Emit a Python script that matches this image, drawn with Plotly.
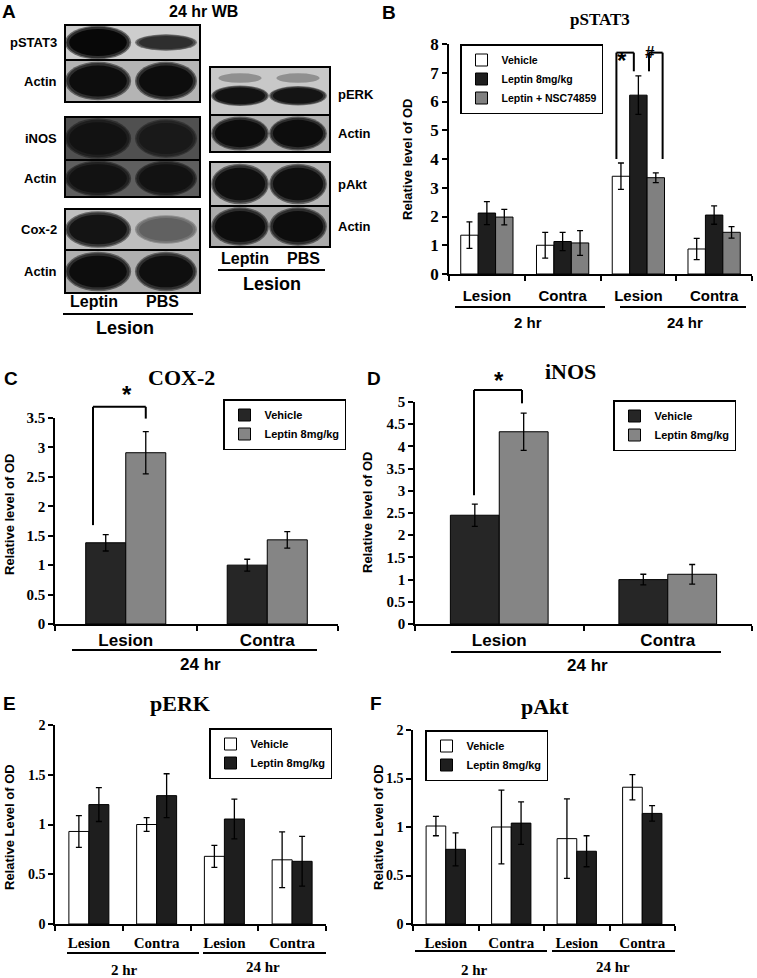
import plotly.graph_objects as go

W, H = 757, 978
SANS = "Liberation Sans, Arial, sans-serif"
SERIF = "Liberation Serif, Times New Roman, serif"

# ---------------- data ----------------
wb_lanes = ["Leptin", "PBS"]
wb_left_targets = ["pSTAT3", "Actin", "iNOS", "Actin", "Cox-2", "Actin"]
wb_left_leptin = [0.97, 0.95, 0.93, 0.93, 0.92, 0.95]   # band darkness
wb_left_pbs = [0.82, 0.95, 0.90, 0.93, 0.62, 0.94]
wb_right_targets = ["pERK", "Actin", "pAkt", "Actin"]
wb_right_leptin = [0.93, 0.95, 0.94, 0.95]
wb_right_pbs = [0.92, 0.95, 0.94, 0.95]

regions4 = ["Lesion", "Contra", "Lesion", "Contra"]
regions2 = ["Lesion", "Contra"]
times = ["2 hr", "24 hr"]

pstat3_vehicle = [1.35, 1.00, 3.40, 0.87]
pstat3_vehicle_err = [0.46, 0.45, 0.46, 0.37]
pstat3_leptin = [2.12, 1.13, 6.22, 2.05]
pstat3_leptin_err = [0.40, 0.32, 0.67, 0.32]
pstat3_nsc = [1.98, 1.08, 3.35, 1.45]
pstat3_nsc_err = [0.27, 0.43, 0.17, 0.20]

cox2_vehicle = [1.38, 1.00]
cox2_vehicle_err = [0.14, 0.10]
cox2_leptin = [2.91, 1.43]
cox2_leptin_err = [0.36, 0.14]

inos_vehicle = [2.45, 1.00]
inos_vehicle_err = [0.25, 0.12]
inos_leptin = [4.33, 1.12]
inos_leptin_err = [0.42, 0.22]

perk_vehicle = [0.93, 1.00, 0.68, 0.645]
perk_vehicle_err = [0.16, 0.07, 0.11, 0.28]
perk_leptin = [1.20, 1.29, 1.055, 0.63]
perk_leptin_err = [0.17, 0.22, 0.20, 0.25]

pakt_vehicle = [1.01, 1.00, 0.88, 1.41]
pakt_vehicle_err = [0.10, 0.38, 0.41, 0.13]
pakt_leptin = [0.77, 1.04, 0.75, 1.14]
pakt_leptin_err = [0.17, 0.22, 0.16, 0.08]

# ---------------- helpers ----------------
def xp(px):
    return px / W


def yp(py):
    return 1 - py / H


AX = {
    "B": dict(n="2", px=(449, 752), py=(274, 44), xr=(-0.5, 3.5), yr=(0, 8)),
    "C": dict(n="3", px=(55, 338), py=(624, 418), xr=(-0.5, 1.5), yr=(0, 3.5)),
    "D": dict(n="4", px=(415, 752), py=(624, 402), xr=(-0.5, 1.5), yr=(0, 5)),
    "E": dict(n="5", px=(55, 326), py=(924, 725), xr=(-0.5, 3.5), yr=(0, 2)),
    "F": dict(n="6", px=(413, 675), py=(924, 730), xr=(-0.5, 3.5), yr=(0, 2)),
}


def dx(ax, v):
    a = AX[ax]
    x0, x1 = a["px"]
    r0, r1 = a["xr"]
    return xp(x0 + (v - r0) / (r1 - r0) * (x1 - x0))


def dy(ax, v):
    a = AX[ax]
    yb, yt = a["py"]
    r0, r1 = a["yr"]
    return yp(yb + (v - r0) / (r1 - r0) * (yt - yb))


def gray(v):
    v = max(0, min(255, int(round(v))))
    return f"rgb({v},{v},{v})"


fig = go.Figure()
shapes = []
annotations = []

# ---------------- Panel A (western blots) ----------------
left_rows_y = [(25, 60), (60, 102), (117, 160), (160, 197), (209, 250), (250, 293)]
left_bg = [205, 180, 80, 95, 190, 175]
left_band_h = [(0.86, 0.42), (0.82, 0.82), (0.84, 0.8), (0.86, 0.86), (0.8, 0.62), (0.82, 0.82)]
left_lanes = [(98, 31), (166, 29)]
right_rows_y = [(67, 115), (115, 152), (162, 206), (206, 247)]
right_bg = [200, 175, 185, 170]
right_band_h = [(0.38, 0.36), (0.82, 0.82), (0.82, 0.82), (0.84, 0.84)]
right_lanes = [(240, 27), (298, 27)]
layers = [(1.07, 1.12, 0.5), (1.02, 1.04, 0.8), (0.93, 0.9, 1.0)]


def draw_blot(rows_y, bgs, band_h, lanes, targets, lep, pbs, xbox, label_side):
    for i, (y0, y1) in enumerate(rows_y):
        bg = bgs[i]
        shapes.append(dict(type="rect", xref="x", yref="y", x0=xbox[0], x1=xbox[1], y0=y0, y1=y1,
                           fillcolor=gray(bg), line=dict(width=0), layer="above"))
        cy = (y0 + y1) / 2
        hgt = y1 - y0
        if targets[i] == "pERK":
            cy = y0 + 0.6 * hgt
            for (c, hw) in lanes:
                shapes.append(dict(type="circle", xref="x", yref="y", x0=c - hw * 0.8, x1=c + hw * 0.8,
                                   y0=y0 + 0.13 * hgt, y1=y0 + 0.33 * hgt,
                                   fillcolor=gray(bg * 0.72), line=dict(width=0), layer="above"))
        for j, (c, hw) in enumerate(lanes):
            d = (lep if j == 0 else pbs)[i]
            core = 255 * (1 - d)
            hh = band_h[i][j] * hgt / 2
            for sx, sy, t in layers:
                col = bg + (core - bg) * t
                shapes.append(dict(type="circle", xref="x", yref="y",
                                   x0=c - hw * sx, x1=c + hw * sx, y0=cy - hh * sy, y1=cy + hh * sy,
                                   fillcolor=gray(col), line=dict(width=0), layer="above"))
        shapes.append(dict(type="rect", xref="x", yref="y", x0=xbox[0], x1=xbox[1], y0=y0, y1=y1,
                           fillcolor="rgba(0,0,0,0)", line=dict(color="black", width=2), layer="above"))
        if label_side == "left":
            annotations.append(dict(xref="x", yref="y", x=xbox[0] - 6, y=(y0 + y1) / 2, text=targets[i],
                                    showarrow=False, xanchor="right", yanchor="middle",
                                    font=dict(family=SANS, size=13, color="black", weight="bold")))
        else:
            annotations.append(dict(xref="x", yref="y", x=xbox[1] + 6, y=(y0 + y1) / 2 + (3 if i == 0 else 0),
                                    text=targets[i], showarrow=False, xanchor="left", yanchor="middle",
                                    font=dict(family=SANS, size=13, color="black", weight="bold")))


draw_blot(left_rows_y, left_bg, left_band_h, left_lanes, wb_left_targets, wb_left_leptin, wb_left_pbs,
          (65, 200), "left")
draw_blot(right_rows_y, right_bg, right_band_h, right_lanes, wb_right_targets, wb_right_leptin, wb_right_pbs,
          (210, 330), "right")

bigsans = dict(family=SANS, size=16, color="black", weight="bold")
for (c, _), lab in zip(left_lanes, wb_lanes):
    annotations.append(dict(xref="x", yref="y", x=c - 4, y=301, text=lab, showarrow=False, font=bigsans))
for (c, _), lab in zip(right_lanes, wb_lanes):
    annotations.append(dict(xref="x", yref="y", x=c + 5, y=258, text=lab, showarrow=False, font=bigsans))
shapes.append(dict(type="line", xref="x", yref="y", x0=63, x1=193, y0=314, y1=314, line=dict(color="black", width=2)))
shapes.append(dict(type="line", xref="x", yref="y", x0=218, x1=325, y0=270, y1=270, line=dict(color="black", width=2)))
annotations.append(dict(xref="x", yref="y", x=125, y=328, text="Lesion", showarrow=False,
                        font=dict(family=SANS, size=18, color="black", weight="bold")))
annotations.append(dict(xref="x", yref="y", x=272, y=284, text="Lesion", showarrow=False,
                        font=dict(family=SANS, size=18, color="black", weight="bold")))
annotations.append(dict(xref="x", yref="y", x=203, y=11, text="24 hr WB", showarrow=False,
                        font=dict(family=SANS, size=16, color="black", weight="bold")))

# ---------------- bar panels ----------------
def add_bars(ax, series, w, legend):
    a = AX[ax]
    n = len(series)
    offs = [(i - (n - 1) / 2) * w for i in range(n)]
    for (name, vals, errs, color), off in zip(series, offs):
        fig.add_trace(go.Bar(
            x=[k + off for k in range(len(vals))], y=vals, width=w, name=name,
            marker=dict(color=color, line=dict(color="black", width=1)),
            error_y=dict(type="data", array=errs, color="black", thickness=1.3, width=3),
            xaxis="x" + a["n"], yaxis="y" + a["n"], legend=legend, showlegend=True,
            hoverinfo="skip"))
    return offs


VEH_W = "white"
DARK = "#1e1e1e"
MID = "#808080"

offB = add_bars("B", [("Vehicle", pstat3_vehicle, pstat3_vehicle_err, VEH_W),
                      ("Leptin 8mg/kg", pstat3_leptin, pstat3_leptin_err, DARK),
                      ("Leptin + NSC74859", pstat3_nsc, pstat3_nsc_err, MID)], 0.23, "legend")
offC = add_bars("C", [("Vehicle", cox2_vehicle, cox2_vehicle_err, "#262626"),
                      ("Leptin 8mg/kg", cox2_leptin, cox2_leptin_err, "#858585")], 0.283, "legend2")
offD = add_bars("D", [("Vehicle", inos_vehicle, inos_vehicle_err, "#262626"),
                      ("Leptin 8mg/kg", inos_leptin, inos_leptin_err, "#858585")], 0.29, "legend3")
offE = add_bars("E", [("Vehicle", perk_vehicle, perk_vehicle_err, VEH_W),
                      ("Leptin 8mg/kg", perk_leptin, perk_leptin_err, DARK)], 0.295, "legend4")
offF = add_bars("F", [("Vehicle", pakt_vehicle, pakt_vehicle_err, VEH_W),
                      ("Leptin 8mg/kg", pakt_leptin, pakt_leptin_err, DARK)], 0.30, "legend5")


def fmt(v):
    s = f"{v:.1f}"
    return s[:-2] if s.endswith(".0") else s


layout_axes = {}
axis_fonts = {
    "B": (dict(family=SERIF, size=17, color="black"), dict(family=SANS, size=15, color="black"), 7, 1),
    "C": (dict(family=SERIF, size=15, color="black"), dict(family=SANS, size=17, color="black"), 0, 0.5),
    "D": (dict(family=SERIF, size=15, color="black"), dict(family=SANS, size=17, color="black"), 0, 0.5),
    "E": (dict(family=SERIF, size=14, color="black"), dict(family=SERIF, size=15, color="black"), 4, 0.5),
    "F": (dict(family=SERIF, size=14, color="black"), dict(family=SERIF, size=15, color="black"), 4, 0.5),
}
cat_labels = {"B": regions4, "C": regions2, "D": regions2, "E": regions4, "F": regions4}
for key, a in AX.items():
    yfont, xfont, xtl, dt = axis_fonts[key]
    labels = cat_labels[key]
    ncat = len(labels)
    r0, r1 = a["yr"]
    nt = int(round((r1 - r0) / dt))
    yvals = [r0 + k * dt for k in range(nt + 1)]
    layout_axes["xaxis" + a["n"]] = dict(
        domain=[xp(a["px"][0]), xp(a["px"][1])], range=list(a["xr"]), anchor="y" + a["n"],
        showline=True, linecolor="black", linewidth=1.5, showgrid=False, zeroline=False,
        tickmode="array", tickvals=list(range(ncat)), ticktext=[f"<b>{t}</b>" for t in labels], tickfont=xfont,
        ticks="outside", ticklen=xtl, tickcolor="rgba(0,0,0,0)", automargin=False,
        minor=dict(tickmode="array", tickvals=[k - 0.5 for k in range(ncat + 1)], ticks="outside",
                   ticklen=5, tickcolor="black", tickwidth=1.5),
        fixedrange=True)
    layout_axes["yaxis" + a["n"]] = dict(
        domain=[yp(a["py"][0]), yp(a["py"][1])], range=list(a["yr"]), anchor="x" + a["n"],
        showline=True, linecolor="black", linewidth=1.5, showgrid=False, zeroline=False,
        ticks="outside", ticklen=5, tickcolor="black", tickwidth=1.5,
        tickmode="array", tickvals=yvals, ticktext=[f"<b>{fmt(v)}</b>" for v in yvals],
        tickfont=yfont, automargin=False, fixedrange=True)

# group underline + group labels
def group_line(px0, px1, py):
    shapes.append(dict(type="line", xref="paper", yref="paper", x0=xp(px0), x1=xp(px1), y0=yp(py), y1=yp(py),
                       line=dict(color="black", width=2)))


def text(px, py, s, font, **kw):
    d = dict(xref="paper", yref="paper", x=xp(px), y=yp(py), text=s, showarrow=False,
             xanchor="center", yanchor="middle", font=font)
    d.update(kw)
    annotations.append(d)


sans15 = dict(family=SANS, size=15, color="black", weight="bold")
sans17 = dict(family=SANS, size=17, color="black", weight="bold")
serif15 = dict(family=SERIF, size=15, color="black", weight="bold")

group_line(455, 605, 307); group_line(620, 746, 307)
text(528, 322, times[0], sans15); text(685, 322, times[1], sans15)
group_line(72, 317, 650); text(200, 664, times[1], sans17)
group_line(451, 721, 652); text(587, 665, times[1], sans17)
group_line(67, 199, 953); group_line(203, 326, 953)
text(124, 970, times[0], serif15); text(263, 967, times[1], serif15)
group_line(415, 547, 951); group_line(552, 675, 951)
text(475, 970, times[0], serif15); text(613, 967, times[1], serif15)

# panel letters
letter_font = dict(family=SANS, size=19, color="black", weight="bold")
for L, (px, py) in {"A": (9, 11), "B": (389, 12), "C": (11, 378), "D": (374, 378), "E": (9, 703), "F": (376, 703)}.items():
    text(px, py, L, letter_font)

# panel titles
text(600, 20, "pSTAT3", dict(family=SERIF, size=17, color="black", weight="bold"))
text(181, 377, "COX-2", dict(family=SERIF, size=22, color="black", weight="bold"))
text(570, 371, "iNOS", dict(family=SERIF, size=22, color="black", weight="bold"))
text(180, 703, "pERK", dict(family=SERIF, size=22, color="black", weight="bold"))
text(545, 706, "pAkt", dict(family=SERIF, size=22, color="black", weight="bold"))

# y-axis titles
ytf = dict(family=SANS, size=13, color="black", weight="bold")
text(408, 160, "Relative level of OD", ytf, textangle=-90)
text(9, 515, "Relative level of OD", ytf, textangle=-90)
text(367, 513, "Relative level of OD", ytf, textangle=-90)
text(9, 827, "Relative Level of OD", ytf, textangle=-90)
text(378, 827, "Relative Level of OD", ytf, textangle=-90)

# significance brackets
def bracket(ax, xl, xr, ytop, yl, yr):
    for (x0, y0, x1, y1) in [(xl, yl, xl, ytop), (xl, ytop, xr, ytop), (xr, ytop, xr, yr)]:
        shapes.append(dict(type="line", xref="paper", yref="paper",
                           x0=dx(ax, x0), y0=dy(ax, y0), x1=dx(ax, x1), y1=dy(ax, y1),
                           line=dict(color="black", width=2)))


star_font = dict(family=SANS, size=24, color="black", weight="bold")
g = 2
bracket("B", g + offB[0] - 0.06, g + offB[1] - 0.06, 7.7, 4.0, 7.05)
bracket("B", g + offB[1] + 0.14, g + offB[2] + 0.09, 7.7, 7.05, 4.0)
annotations.append(dict(xref="paper", yref="paper", x=dx("B", g - 0.12), y=dy("B", 7.95), text="*",
                        showarrow=False, font=star_font))
annotations.append(dict(xref="paper", yref="paper", x=dx("B", g + 0.25), y=dy("B", 8.1), text="#",
                        showarrow=False, font=dict(family=SANS, size=17, color="black", weight="bold")))
bracket("C", offC[0] - 0.09, offC[1], 3.69, 1.68, 3.49)
annotations.append(dict(xref="paper", yref="paper", x=dx("C", -0.04), y=dy("C", 3.9), text="*",
                        showarrow=False, font=star_font))
bracket("D", offD[0] - 0.005, offD[1] - 0.01, 5.27, 2.9, 4.97)
annotations.append(dict(xref="paper", yref="paper", x=dx("D", 0.0), y=dy("D", 5.48), text="*",
                        showarrow=False, font=star_font))


def legend_at(px, py, size=11):
    return dict(x=xp(px), y=yp(py), xanchor="left", yanchor="top", bgcolor="white",
                bordercolor="black", borderwidth=1.5, itemwidth=30, tracegroupgap=0,
                font=dict(family=SANS, size=size, color="black", weight="bold"),
                itemclick=False, itemdoubleclick=False)


fig.update_layout(
    width=W, height=H, margin=dict(l=0, r=0, t=0, b=0, pad=0, autoexpand=False),
    paper_bgcolor="white", plot_bgcolor="rgba(0,0,0,0)",
    showlegend=True, barmode="overlay",
    xaxis=dict(domain=[0, 380 / W], range=[0, 380], visible=False, fixedrange=True, automargin=False),
    yaxis=dict(domain=[1 - 340 / H, 1], range=[340, 0], visible=False, fixedrange=True, automargin=False),
    legend=legend_at(460, 44, 10.5),
    legend2=legend_at(223, 399),
    legend3=legend_at(613, 400),
    legend4=legend_at(209, 728),
    legend5=legend_at(425, 730),
    shapes=shapes, annotations=annotations,
    **layout_axes,
)
# invisible anchor trace for panel A axes
fig.add_trace(go.Scatter(x=[0, 380], y=[0, 340], mode="markers", marker=dict(opacity=0),
                         xaxis="x", yaxis="y", showlegend=False, hoverinfo="skip"))

fig.write_html("out.html", config={"displayModeBar": False, "staticPlot": False},
               post_script="document.body.style.margin='0px';document.body.style.padding='0px';"
                           "document.documentElement.style.overflow='hidden';")
